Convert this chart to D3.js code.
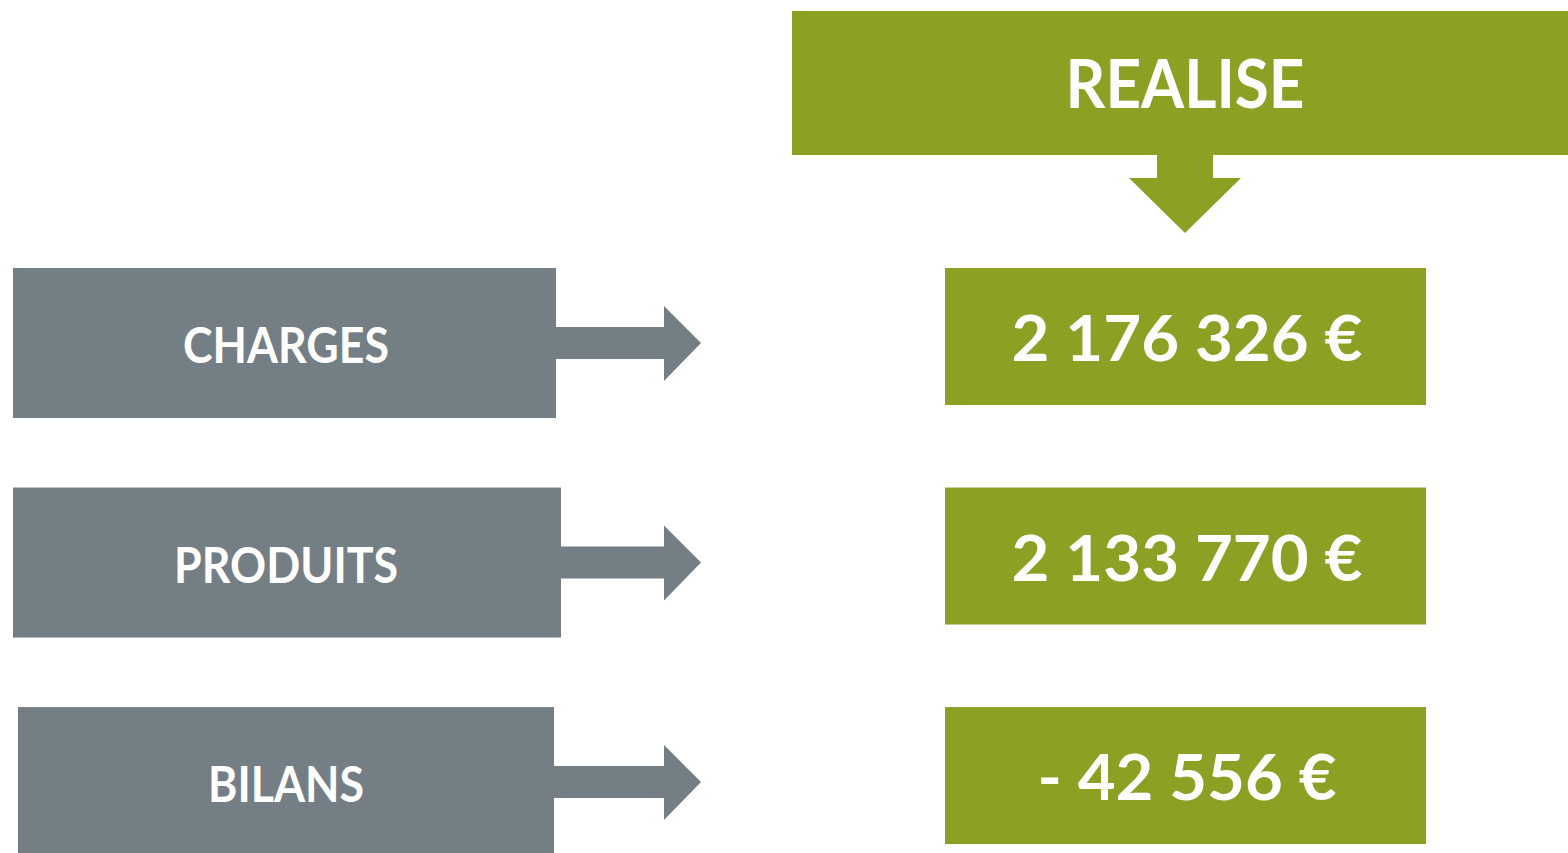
<!DOCTYPE html>
<html lang="fr">
<head>
  <meta charset="UTF-8">
  <title>Realise</title>
  <style>
    body { margin: 0; background: #ffffff; }
    svg { display: block; }
    text { font-family: Lato, "Open Sans", sans-serif; font-weight: bold; fill: #ffffff; }
  </style>
  <script type="text/javascript" src="https://d3js.org/d3.v7.min.js"></script>
</head>
<body>
<script type="text/javascript">

  var header = ["REALISE"];
  var categories = ["CHARGES", "PRODUITS", "BILANS"];
  var values = [2176326, 2133770, -42556];

  var grey = "#747e85";
  var green = "#8ba124";

  var width = 1568, height = 853;

  var svg = d3.select("body")
    .append("svg")
    .attr("width", width)
    .attr("height", height);

  // french style: "2 176 326 €", negative as "- 42 556 €"
  var fr = d3.formatLocale({decimal: ",", thousands: " ", grouping: [3], currency: ["", " €"]});
  var fmtNum = fr.format(",.0f");
  function fmt(v) {
    return (v < 0 ? "- " : "") + fmtNum(Math.abs(v)) + " €";
  }

  var y = d3.scaleBand()
    .domain(categories)
    .range([268, 857])
    .paddingInner(0.317)
    .paddingOuter(0);

  // header box
  var head = svg.append("g").attr("id", "header");
  head.selectAll("rect").data(header).enter()
    .append("rect")
    .attr("x", 792).attr("y", 11)
    .attr("width", width - 792).attr("height", 144)
    .attr("fill", green);

  head.selectAll("text").data(header).enter()
    .append("text")
    .attr("x", 1185).attr("y", 108)
    .attr("text-anchor", "middle")
    .attr("font-size", 66)
    .attr("textLength", 239)
    .attr("lengthAdjust", "spacingAndGlyphs")
    .text(function(d) { return d; });

  // down arrow
  head.append("path")
    .attr("d", "M1157,155 L1213,155 L1213,178 L1241,178 L1185,233 L1129,178 L1157,178 Z")
    .attr("fill", green);

  // rows
  var labelWidths = {"CHARGES": 206, "PRODUITS": 224, "BILANS": 156};
  var valueWidths = [351, 351, 299];
  var boxX = {"CHARGES": [13, 556], "PRODUITS": [13, 561], "BILANS": [18, 554]};

  var rows = svg.selectAll("g.row")
    .data(categories.map(function(c, i) { return {cat: c, val: values[i]}; }))
    .enter()
    .append("g")
    .attr("class", "row")
    .attr("transform", function(d) { return "translate(0," + y(d.cat) + ")"; });

  rows.append("rect")
    .attr("x", function(d) { return boxX[d.cat][0]; })
    .attr("y", 0)
    .attr("width", function(d) { return boxX[d.cat][1] - boxX[d.cat][0]; })
    .attr("height", 150)
    .attr("fill", grey);

  rows.append("text")
    .attr("x", 286)
    .attr("y", 95)
    .attr("text-anchor", "middle")
    .attr("font-size", 49)
    .attr("textLength", function(d) { return labelWidths[d.cat]; })
    .attr("lengthAdjust", "spacingAndGlyphs")
    .text(function(d) { return d.cat; });

  // right arrow
  rows.append("path")
    .attr("d", function(d) {
      var x0 = boxX[d.cat][1];
      return "M" + x0 + ",59 L664,59 L664,38 L701,75 L664,113 L664,91 L" + x0 + ",91 Z";
    })
    .attr("fill", grey);

  rows.append("rect")
    .attr("x", 945)
    .attr("y", 0)
    .attr("width", 481)
    .attr("height", 137)
    .attr("fill", green);

  rows.append("text")
    .attr("x", 1187)
    .attr("y", 93)
    .attr("text-anchor", "middle")
    .attr("font-size", 64)
    .attr("textLength", function(d, i) { return valueWidths[i]; })
    .attr("lengthAdjust", "spacingAndGlyphs")
    .text(function(d) { return fmt(d.val); });

</script>
</body>
</html>
